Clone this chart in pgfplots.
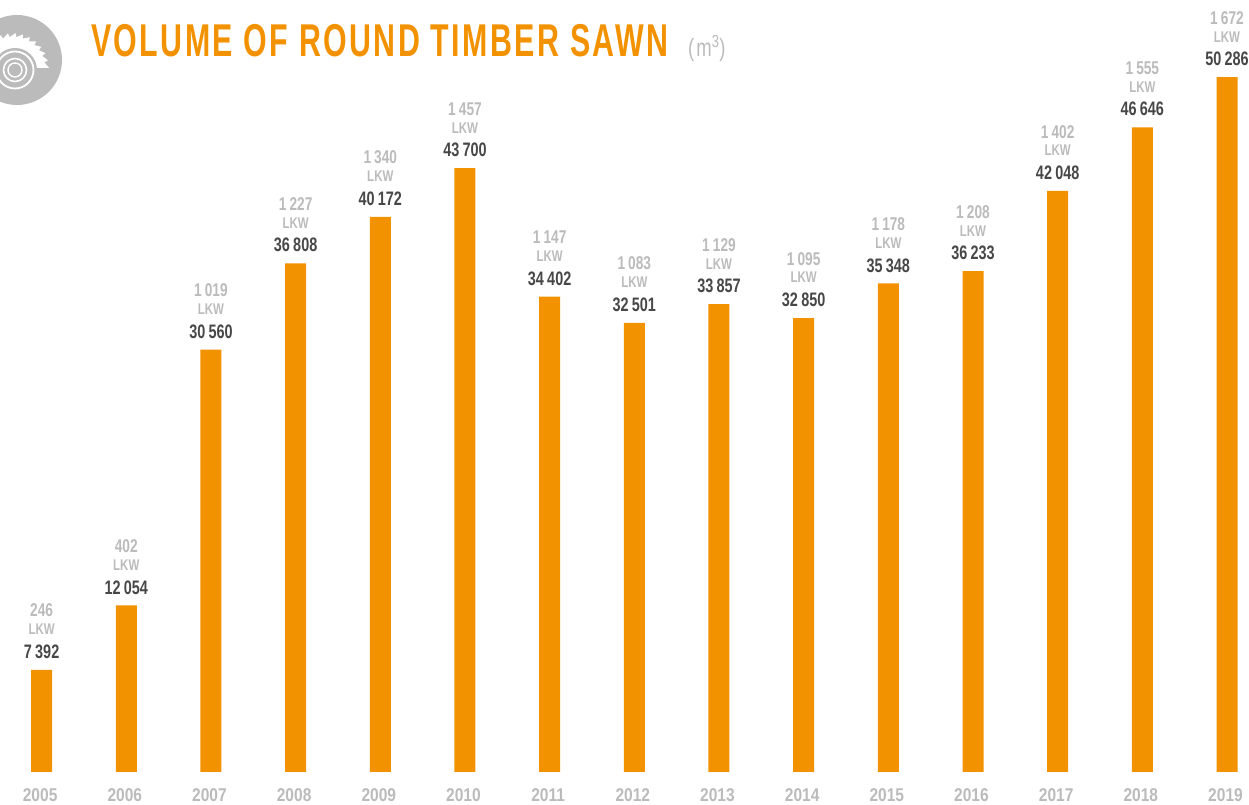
\documentclass[border=0pt]{standalone}
\usepackage{pgfplots}
\usepackage{pgfplotstable}
\usepackage{fontspec}
\pgfplotsset{compat=1.18}
\setmainfont[FakeStretch=0.74]{Liberation Sans}
\newfontfamily\titlefont[FakeStretch=0.66,LetterSpace=5.2]{Liberation Sans}
\newfontfamily\yearfont[FakeStretch=0.84]{Liberation Sans}
\newfontfamily\unitfont[FakeStretch=0.74,LetterSpace=8]{Liberation Sans}
\definecolor{barorange}{HTML}{F39200}
\definecolor{lblgray}{HTML}{BBBBBB}
\definecolor{valdark}{HTML}{474747}
\protected\def\stacklabel#1#2{\shortstack[c]{%
      {\fontsize{18.5}{18.5}\selectfont\bfseries\color{lblgray}#1}\\[4pt]
      {\fontsize{15.5}{15.5}\selectfont\bfseries\color{lblgray}LKW}\\[7pt]
      {\fontsize{19.5}{19.5}\selectfont\bfseries\color{valdark}#2}}}
\pgfplotstableread{
year value label
2005 7392 \stacklabel{246}{7\,392}
2006 12054 \stacklabel{402}{12\,054}
2007 30560 \stacklabel{1\,019}{30\,560}
2008 36808 \stacklabel{1\,227}{36\,808}
2009 40172 \stacklabel{1\,340}{40\,172}
2010 43700 \stacklabel{1\,457}{43\,700}
2011 34402 \stacklabel{1\,147}{34\,402}
2012 32501 \stacklabel{1\,083}{32\,501}
2013 33857 \stacklabel{1\,129}{33\,857}
2014 32850 \stacklabel{1\,095}{32\,850}
2015 35348 \stacklabel{1\,178}{35\,348}
2016 36233 \stacklabel{1\,208}{36\,233}
2017 42048 \stacklabel{1\,402}{42\,048}
2018 46646 \stacklabel{1\,555}{46\,646}
2019 50286 \stacklabel{1\,672}{50\,286}
}\timber
\begin{document}
\begin{tikzpicture}[x=1pt,y=1pt]
\useasboundingbox (0,0) rectangle (1249,805);
\begin{axis}[
  at={(0,0)},anchor=south west,
  scale only axis,width=1249pt,height=805pt,
  xmin=2004.5085,xmax=2019.2599,
  ymin=-2388,ymax=55861,
  clip=false,
  axis line style={draw=none},
  major tick length=0pt,
  ytick=\empty,
  xtick=data,
  x tick label style={/pgf/number format/1000 sep={},/pgf/number format/assume math mode=true,
    font=\yearfont\bfseries\fontsize{18.5}{18.5}\selectfont\color{lblgray},anchor=center,yshift=10pt,xshift=-1.5pt},
  ybar,
  bar width=21pt,
]
\addplot[fill=barorange,draw=none,
  point meta=explicit symbolic,
  nodes near coords,
  nodes near coords style={anchor=south,inner sep=0pt,yshift=11pt},
] table[x=year,y=value,meta=label] {\timber};
\end{axis}
% saw logo
\begin{scope}
\clip (0,0) rectangle (1249,805);
\fill[lblgray] (17,745) circle (45);
\begin{scope}
\clip (-5,737) rectangle (60,790);
\fill[white] (13,736) \foreach \a in {0,12,...,348}{ -- ++(0,0) -- ({13+32*cos(\a)},{736+32*sin(\a)}) -- ({13+36*cos(\a+2)},{736+36*sin(\a+2)})} -- cycle;
\end{scope}
\fill[lblgray] (15,735) circle (22);
\foreach \r/\w in {18.5/1.8,11.5/1.6,7/1.4}{\draw[white,line width=\w pt] (15,735) circle (\r);}
\end{scope}
\node[anchor=base west,inner sep=0pt,text=barorange] at (91,748) {\titlefont\bfseries\fontsize{46}{46}\selectfont VOLUME OF ROUND TIMBER SAWN};
\node[anchor=base west,inner sep=0pt,text=lblgray] at (688,748) {\unitfont\fontsize{25}{25}\selectfont (m\textsuperscript{3})};
\end{tikzpicture}
\end{document}
